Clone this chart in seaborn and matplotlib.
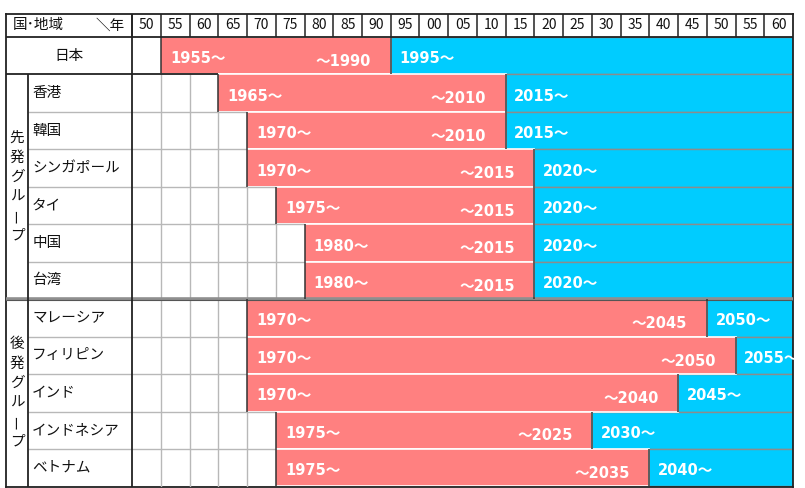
import matplotlib
matplotlib.use("Agg")
import matplotlib.pyplot as plt
import seaborn as sns
import pandas as pd

# ---------------- data ----------------
countries = ["日本", "香港", "韓国", "シンガポール", "タイ", "中国", "台湾",
             "マレーシア", "フィリピン", "インド", "インドネシア", "ベトナム"]
group_names = ["先発グループ", "後発グループ"]
group_rows = [(1, 6), (7, 11)]          # first / last row index of each group
red_start = [1955, 1965, 1970, 1970, 1975, 1980, 1980, 1970, 1970, 1970, 1975, 1975]
red_end = [1990, 2010, 2010, 2015, 2015, 2015, 2015, 2045, 2050, 2040, 2025, 2035]
blue_start = [1995, 2015, 2015, 2020, 2020, 2020, 2020, 2050, 2055, 2045, 2030, 2040]
year_labels = ["50", "55", "60", "65", "70", "75", "80", "85", "90", "95", "00",
               "05", "10", "15", "20", "25", "30", "35", "40", "45", "50", "55", "60"]
first_year = 1950
step = 5
header_text_left = "国･地域"
header_text_right = "＼年"

# ---------------- layout ----------------
sns.set_theme(style="white")
plt.rcParams["font.family"] = ["Noto Sans CJK JP", "DejaVu Sans"]

RED = "#FF8080"
BLUE = "#00CCFF"
X0 = 1928.05               # left edge of table (data units = years)
XG = 1931.9                # right edge of group column
X_END = first_year + step * len(year_labels)   # 2065
HDR = 0.614                # header height in row units
n = len(countries)

fig = plt.figure(figsize=(8.05, 4.88), dpi=100)
ax = fig.add_axes([6 / 805, 1.5 / 488, 787 / 805, 472.5 / 488])

df = pd.DataFrame({"country": countries,
                   "full": [X_END] * n,
                   "blue_start": blue_start,
                   "red_start": red_start})

common = dict(data=df, y="country", order=countries, orient="h", width=1.0,
              saturation=1, ax=ax)
sns.barplot(x="full", color=BLUE, edgecolor="#8c8c8c", linewidth=1.0, **common)
sns.barplot(x="blue_start", color=RED, edgecolor="white", linewidth=1.2, **common)
sns.barplot(x="red_start", color="white", linewidth=0, **common)

ax.set_xlim(X0, X_END)
ax.set_ylim(n - 0.5, -0.5 - HDR)
ax.set_xticks([])
ax.set_yticks([])
ax.set_xlabel("")
ax.set_ylabel("")
for s in ax.spines.values():
    s.set_visible(True)
    s.set_color("#222222")
    s.set_linewidth(1.3)

GRID = "#b8b8b8"
DARK = "#222222"
Z = 5

# empty-cell vertical grid
for i in range(n):
    t = first_year + step
    while t < red_start[i]:
        ax.vlines(t, i - 0.5, i + 0.5, color=GRID, lw=1.0, zorder=Z)
        t += step

# horizontal row boundaries in the label / empty region
for i in range(n - 1):
    y = i + 0.5
    xr = max(red_start[i], red_start[i + 1])
    if i == 0:
        ax.hlines(y, X0, xr, color=DARK, lw=1.3, zorder=Z + 1)
    elif i == group_rows[0][1]:
        ax.hlines(y, X0, X_END, color="#8f8f8f", lw=2.6, zorder=Z + 1)
        ax.hlines(y + 0.03, X0, X_END, color="#555555", lw=0.8, zorder=Z + 1)
    else:
        ax.hlines(y, XG, xr, color=GRID, lw=1.0, zorder=Z)

# dark bar boundaries
for i in range(n):
    ax.vlines(red_start[i], i - 0.5, i + 0.5, color="#333333", lw=1.1, zorder=Z + 1)
    ax.vlines(blue_start[i], i - 0.5, i + 0.5, color="#333333", lw=1.1, zorder=Z + 1)

# label column borders
ax.vlines(first_year, -0.5 - HDR, n - 0.5, color=DARK, lw=1.3, zorder=Z + 2)
ax.vlines(XG, 0.5, n - 0.5, color=DARK, lw=1.3, zorder=Z + 2)

# header
ax.hlines(-0.5, X0, X_END, color=DARK, lw=1.3, zorder=Z + 2)
yh = -0.5 - HDR / 2
for k, lab in enumerate(year_labels):
    x = first_year + step * k
    ax.vlines(x, -0.5 - HDR, -0.5, color=DARK, lw=1.1, zorder=Z + 2)
    ax.text(x + step / 2, yh, lab, ha="center", va="center", fontsize=10,
            color="#111111", zorder=Z + 3)
ax.text(1929.3, yh, header_text_left, ha="left", va="center", fontsize=10.5,
        color="#111111", zorder=Z + 3)
ax.text(1948.8, yh, header_text_right, ha="right", va="center", fontsize=10.5,
        color="#111111", zorder=Z + 3)

# country labels
for i, c in enumerate(countries):
    if i == 0:
        ax.text((X0 + first_year) / 2, i, c, ha="center", va="center",
                fontsize=10.5, color="#111111", zorder=Z + 3)
    else:
        ax.text(1932.6, i, c, ha="left", va="center", fontsize=10.5,
                color="#111111", zorder=Z + 3)

# vertical group labels
for name, (a, b) in zip(group_names, group_rows):
    center = (a + b) / 2
    spacing = 0.52
    m = len(name)
    for k, ch in enumerate(name):
        y = center + (k - (m - 1) / 2) * spacing
        rot = 90 if ch == "ー" else 0
        ax.text((X0 + XG) / 2, y, ch, ha="center", va="center", fontsize=10.5,
                rotation=rot, color="#111111", zorder=Z + 3)

# bar labels
lab_font = ["DejaVu Sans", "Noto Sans CJK JP"]
for i in range(n):
    ax.text(red_start[i] + 1.6, i + 0.08, f"{red_start[i]}～", ha="left",
            va="center", fontsize=10.5, fontweight="bold", color="white",
            family=lab_font, zorder=Z + 3)
    ax.text(blue_start[i] - 3.4, i + 0.15, f"～{red_end[i]}", ha="right",
            va="center", fontsize=10.5, fontweight="bold", color="white",
            family=lab_font, zorder=Z + 3)
    ax.text(blue_start[i] + 1.5, i + 0.08, f"{blue_start[i]}～", ha="left",
            va="center", fontsize=10.5, fontweight="bold", color="white",
            family=lab_font, zorder=Z + 3)

fig.savefig("out.png", dpi=100)
